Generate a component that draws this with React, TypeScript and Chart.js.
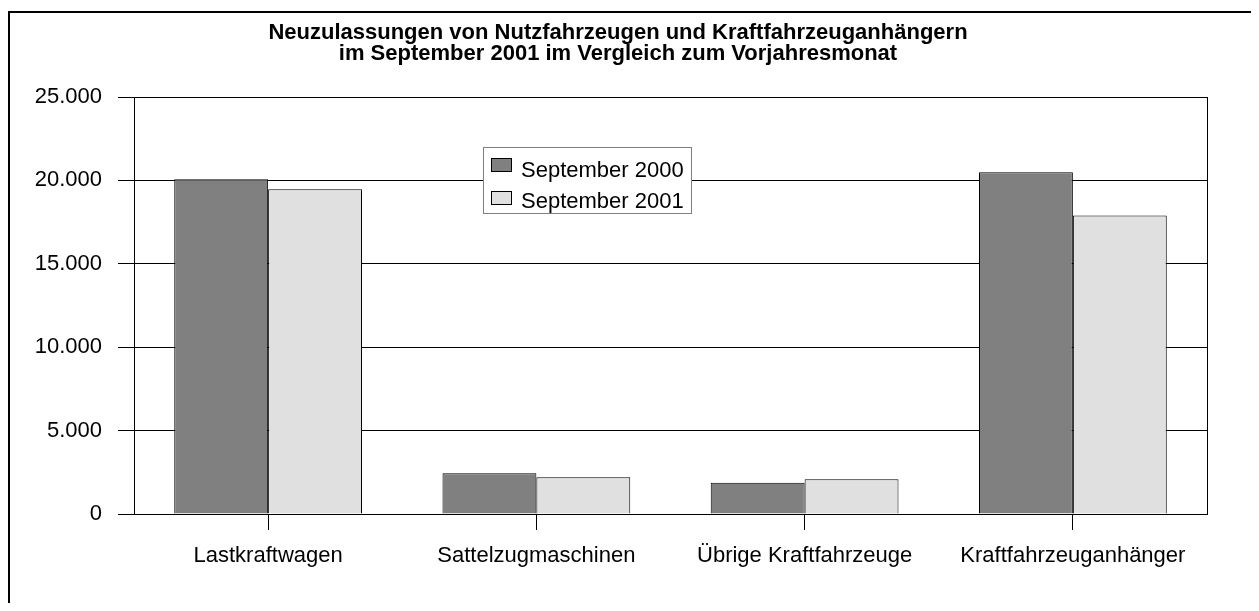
import React, { useEffect, useRef } from "react";
import { Chart, registerables } from "chart.js";

Chart.register(...registerables);

const titleLines = [
  "Neuzulassungen von Nutzfahrzeugen und Kraftfahrzeuganhängern",
  "im September 2001 im Vergleich zum Vorjahresmonat",
];
const categories = [
  "Lastkraftwagen",
  "Sattelzugmaschinen",
  "Übrige Kraftfahrzeuge",
  "Kraftfahrzeuganhänger",
];
const seriesNames = ["September 2000", "September 2001"];
const sep2000 = [20070, 2440, 1880, 20490];
const sep2001 = [19470, 2200, 2080, 17890];
const yTicks = [0, 5000, 10000, 15000, 20000, 25000];

const FONT = "'Liberation Sans', Arial, Helvetica, sans-serif";
const DARK = "#808080";
const LIGHT = "#e0e0e0";

const fmt = (v: number) =>
  String(v).replace(/\B(?=(\d{3})+(?!\d))/g, ".");

const decorPlugin = {
  id: "decor",
  beforeDraw(chart: any) {
    const { ctx, width, height } = chart;
    ctx.save();
    ctx.strokeStyle = "#000";
    ctx.lineWidth = 2;
    ctx.beginPath();
    ctx.moveTo(1, height + 2);
    ctx.lineTo(1, 4);
    ctx.lineTo(width + 2, 4);
    ctx.stroke();
    ctx.restore();
  },
  afterDraw(chart: any) {
    const { ctx, chartArea } = chart;
    ctx.save();
    // right border of plot area
    ctx.strokeStyle = "#000";
    ctx.lineWidth = 1;
    ctx.beginPath();
    ctx.moveTo(Math.round(chartArea.right) + 0.5, chartArea.top);
    ctx.lineTo(Math.round(chartArea.right) + 0.5, chartArea.bottom);
    ctx.stroke();

    // title
    ctx.fillStyle = "#000";
    ctx.font = `bold 22px ${FONT}`;
    ctx.textAlign = "center";
    ctx.textBaseline = "alphabetic";
    const cx = 610;
    ctx.fillText(titleLines[0], cx, 31);
    ctx.fillText(titleLines[1], cx, 52);

    // legend
    const lx = chartArea.left + 349;
    const ly = chartArea.top + 50;
    ctx.fillStyle = "#fff";
    ctx.fillRect(lx, ly, 208, 66);
    ctx.strokeStyle = "#808080";
    ctx.lineWidth = 1;
    ctx.strokeRect(lx + 0.5, ly + 0.5, 208, 66);
    const colors = [DARK, LIGHT];
    ctx.font = `22px ${FONT}`;
    ctx.textAlign = "left";
    seriesNames.forEach((name, i) => {
      const sy = ly + 11 + i * 33;
      ctx.fillStyle = colors[i];
      ctx.fillRect(lx + 8, sy, 20, 13);
      ctx.strokeStyle = "#000";
      ctx.strokeRect(lx + 8.5, sy + 0.5, 20, 13);
      ctx.fillStyle = "#000";
      ctx.fillText(name, lx + 38, ly + 30 + i * 31);
    });
    ctx.restore();
  },
};

export default function App() {
  const ref = useRef<HTMLCanvasElement | null>(null);
  useEffect(() => {
    if (!ref.current) return;
    const chart = new Chart(ref.current, {
      type: "bar",
      data: {
        labels: categories,
        datasets: [
          {
            label: seriesNames[0],
            data: sep2000,
            backgroundColor: DARK,
            borderColor: "#000",
            borderWidth: 1,
          },
          {
            label: seriesNames[1],
            data: sep2001,
            backgroundColor: LIGHT,
            borderColor: "#000",
            borderWidth: 1,
          },
        ],
      },
      options: {
        responsive: false,
        animation: false,
        layout: { padding: { left: 26, top: 89, right: 44, bottom: 29 } },
        plugins: {
          legend: { display: false },
          title: { display: false },
          tooltip: { enabled: false },
        },
        datasets: {
          bar: { categoryPercentage: 0.7, barPercentage: 1.0 },
        },
        scales: {
          x: {
            afterFit: (s: any) => {
              s.height = 60;
            },
            grid: {
              offset: false,
              drawOnChartArea: false,
              drawTicks: true,
              tickLength: 16,
              color: "#000",
            },
            border: { display: true, color: "#000" },
            ticks: {
              color: "#000",
              padding: 13,
              maxRotation: 0,
              font: { family: FONT, size: 22 },
            },
          },
          y: {
            min: 0,
            max: 25000,
            afterFit: (s: any) => {
              s.width = 100;
            },
            afterBuildTicks: (s: any) => {
              s.ticks = yTicks.map((v) => ({ value: v }));
            },
            grid: {
              color: "#000",
              drawTicks: true,
              tickLength: 16,
            },
            border: { display: true, color: "#000" },
            ticks: {
              color: "#000",
              padding: 16,
              font: { family: FONT, size: 22 },
              callback: (v: any) => fmt(Number(v)),
            },
          },
        },
      },
      plugins: [decorPlugin],
    });
    return () => chart.destroy();
  }, []);
  return <canvas ref={ref} width={1243} height={595} style={{ display: "block" }} />;
}
